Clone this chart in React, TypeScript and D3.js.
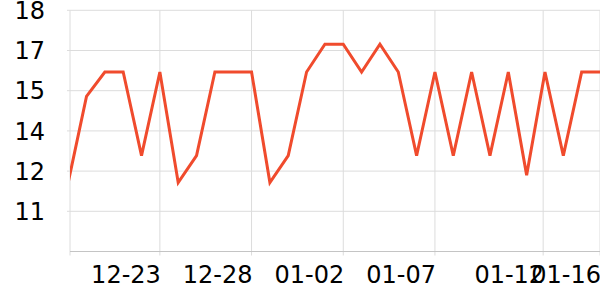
import React from "react";
import * as d3 from "d3";

const dates = [
  "12-18", "12-19", "12-20", "12-21", "12-22", "12-23", "12-24", "12-25", "12-26", "12-27",
  "12-28", "12-29", "12-30", "12-31", "01-01", "01-02", "01-03", "01-04", "01-05", "01-06",
  "01-07", "01-08", "01-09", "01-10", "01-11", "01-12", "01-13", "01-14", "01-15", "01-16",
];
const values = [
  12.0, 15.0, 15.85, 15.85, 12.94, 15.85, 12.0, 12.94, 15.85, 15.85,
  15.85, 12.0, 12.94, 15.85, 16.82, 16.82, 15.85, 16.82, 15.85, 12.94,
  15.85, 12.94, 15.85, 12.94, 15.85, 12.26, 15.85, 12.94, 15.85, 15.85,
];
const xTickLabels = ["12-23", "12-28", "01-02", "01-07", "01-12", "01-16"];
const xTickIndex = [5, 10, 15, 20, 25.9, 29];
const yTicks = [9.6, 11, 12.4, 13.8, 15.2, 16.6, 18];

const W = 600;
const H = 300;
const left = 70;
const right = 600;
const top = 10.3;
const bottom = 251.5;

export default function App() {
  const x = d3.scaleLinear().domain([0.1, dates.length - 1]).range([left, right]);
  const y = d3.scaleLinear().domain([9.6, 18]).range([bottom, top]);
  const fmt = d3.format(".0f");
  const line = d3
    .line<number>()
    .x((_, i) => x(i))
    .y((d) => y(d));

  const font = "DejaVu Sans, sans-serif";

  return (
    <svg
      width={W}
      height={H}
      style={{ position: "absolute", left: 0, top: 0, background: "#fff" }}
    >
      <defs>
        <clipPath id="plot">
          <rect x={left} y={0} width={right - left} height={bottom} />
        </clipPath>
      </defs>
      {/* horizontal gridlines */}
      {yTicks.slice(1).map((t) => (
        <line
          key={"yg" + t}
          x1={left - 3}
          x2={right}
          y1={y(t)}
          y2={y(t)}
          stroke="#dcdcdc"
          strokeWidth={1}
        />
      ))}
      {/* vertical gridlines */}
      {[0.1, ...xTickIndex].map((t) => (
        <line
          key={"xg" + t}
          x1={x(t)}
          x2={x(t)}
          y1={top}
          y2={bottom + 4}
          stroke="#dcdcdc"
          strokeWidth={1}
        />
      ))}
      {/* bottom axis */}
      <line x1={left} x2={right} y1={bottom} y2={bottom} stroke="#c4c4c4" strokeWidth={1} />
      {/* y labels */}
      {yTicks.slice(1).map((t) => (
        <text
          key={"yl" + t}
          x={45}
          y={y(t)}
          dy="0.36em"
          textAnchor="end"
          fontFamily={font}
          fontSize={24}
          fill="#000"
        >
          {fmt(t)}
        </text>
      ))}
      {/* x labels */}
      {xTickIndex.map((t, i) => (
        <text
          key={"xl" + i}
          x={x(t) + 1}
          y={283}
          textAnchor="end"
          fontFamily={font}
          fontSize={24}
          fill="#000"
        >
          {xTickLabels[i]}
        </text>
      ))}
      <path
        d={line(values) || ""}
        fill="none"
        stroke="#f04b2d"
        strokeWidth={3}
        clipPath="url(#plot)"
      />
    </svg>
  );
}
